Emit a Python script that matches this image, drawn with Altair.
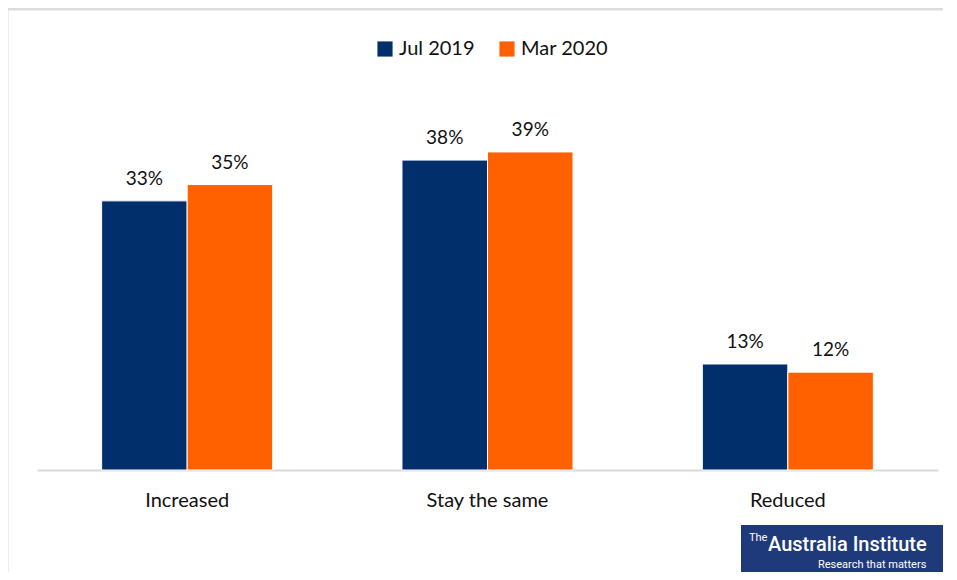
import altair as alt
import pandas as pd

categories = ["Increased", "Stay the same", "Reduced"]
series = ["Jul 2019", "Mar 2020"]
jul_2019 = [33, 38, 13]
mar_2020 = [35, 39, 12]
colors = ["#002F6C", "#FF6000"]

rows = []
for c, a, b in zip(categories, jul_2019, mar_2020):
    rows.append({"cat": c, "series": series[0], "val": a, "label": f"{a}%"})
    rows.append({"cat": c, "series": series[1], "val": b, "label": f"{b}%"})
df = pd.DataFrame(rows)

FONT = "Lato"
W, H = 901, 367

x_enc = alt.X("cat:N", sort=categories,
              scale=alt.Scale(paddingInner=0, paddingOuter=0),
              axis=alt.Axis(title=None, labelAngle=0, labelFontSize=20, labelFont=FONT,
                            labelColor="#111111", ticks=False, domainColor="#d9d9d9",
                            domainWidth=2, labelPadding=20, grid=False))
xo = alt.XOffset("series:N", sort=series,
                 scale=alt.Scale(paddingInner=0, paddingOuter=0.756))
y_enc = alt.Y("val:Q", scale=alt.Scale(domain=[0, 45]), axis=None)
color_enc = alt.Color("series:N", sort=series,
                      scale=alt.Scale(domain=series, range=colors),
                      legend=alt.Legend(title=None, orient="none", direction="horizontal",
                                        legendX=338, legendY=-64, symbolType="square",
                                        symbolSize=230, symbolStrokeWidth=0,
                                        labelFontSize=20, labelFont=FONT, labelColor="#111111",
                                        columnPadding=22, symbolOpacity=1))

base = alt.Chart(df)

bars = base.mark_bar(stroke="white", strokeWidth=1).encode(
    x=x_enc, xOffset=xo, y=y_enc, color=color_enc)

labels = base.mark_text(fontSize=19, font=FONT, color="#111111", baseline="alphabetic", dy=-16).encode(
    x=alt.X("cat:N", sort=categories), xOffset=xo, y="val:Q", text="label:N")

deco = pd.DataFrame({"k": [0]})
border = alt.Chart(deco).mark_rect(filled=False, stroke="#dcdcdc", strokeWidth=3).encode(
    x=alt.value(-30), x2=alt.value(W + 40), y=alt.value(-94), y2=alt.value(H + 140))

logo_box = alt.Chart(deco).mark_rect(fill="#1F3A7A").encode(
    x=alt.value(704), x2=alt.value(W + 40), y=alt.value(422), y2=alt.value(H + 140))

logo_the = alt.Chart(deco).mark_text(text="The", font="Roboto", fontSize=11, color="white",
                                      align="left", baseline="alphabetic").encode(
    x=alt.value(712), y=alt.value(438))
logo_main = alt.Chart(deco).mark_text(text="Australia Institute", font="Roboto", fontSize=20,
                                       fontWeight=500, color="white", align="left",
                                       baseline="alphabetic").encode(
    x=alt.value(731), y=alt.value(448))
logo_sub = alt.Chart(deco).mark_text(text="Research that matters", font="Roboto", fontSize=11,
                                      color="white", align="left", baseline="alphabetic").encode(
    x=alt.value(781), y=alt.value(465))

chart = alt.layer(border, bars, labels, logo_box, logo_the, logo_main, logo_sub).properties(
    width=W, height=H,
    background="white",
    autosize=alt.AutoSizeParams(type="none"),
    padding={"left": 29, "top": 95, "right": 5, "bottom": 102},
).configure_view(strokeWidth=0, stroke="transparent")

chart.save("out.html", embed_options={"renderer": "svg", "actions": False})
